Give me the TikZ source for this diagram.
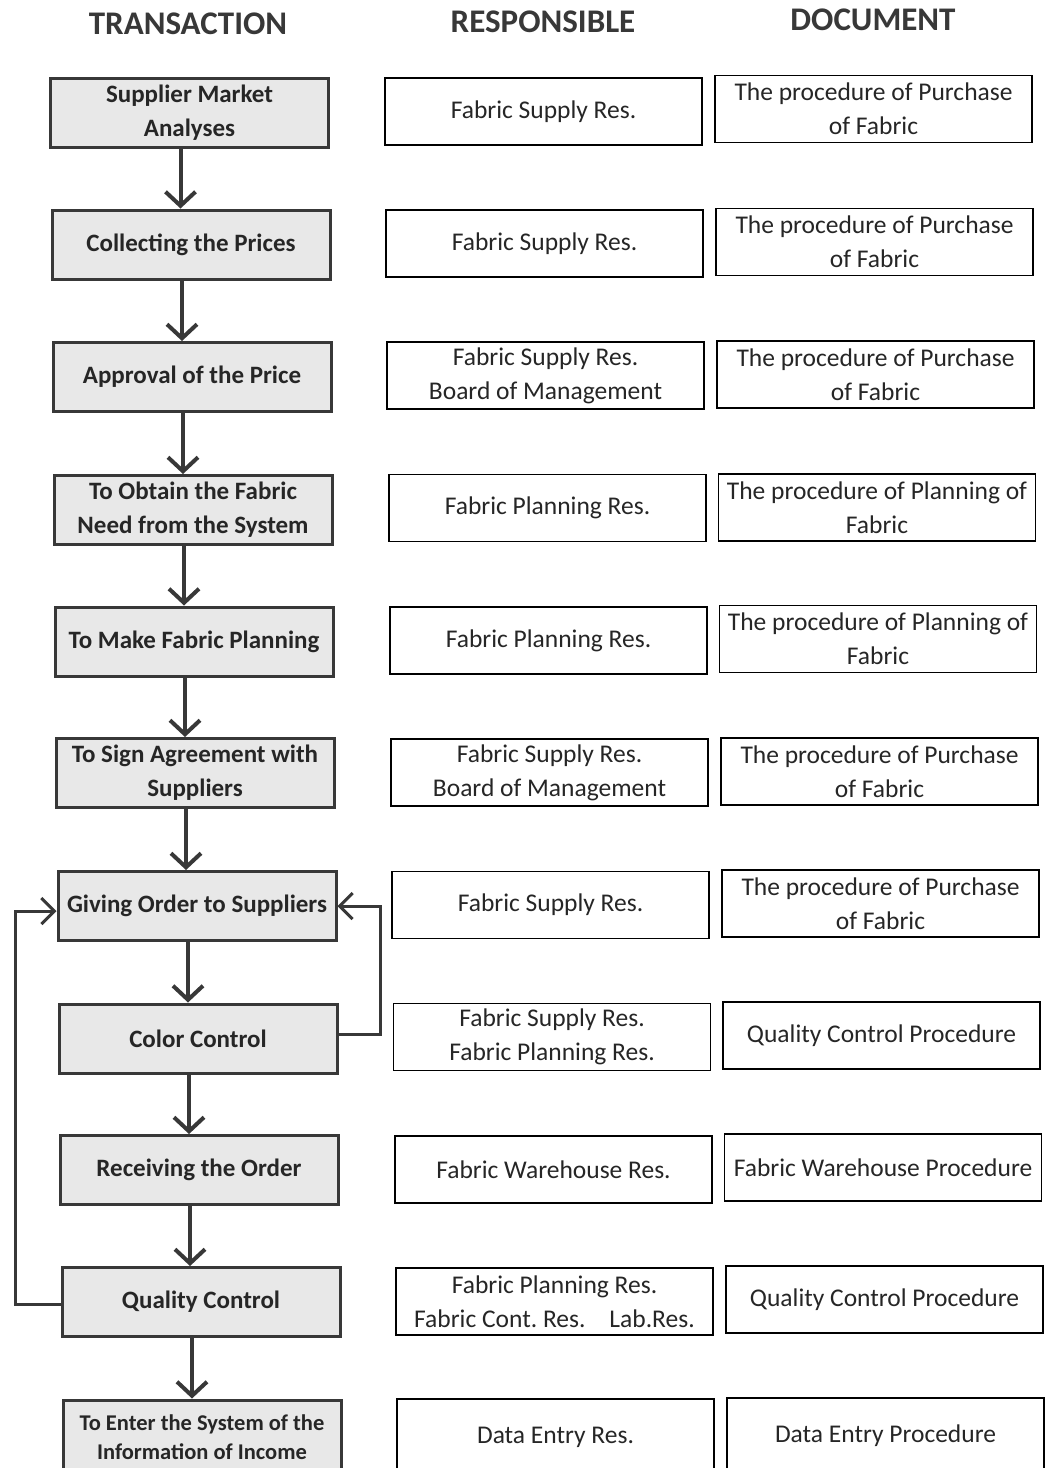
\documentclass[tikz,border=0pt]{standalone}
\usepackage{fontspec}
\setmainfont{Carlito}
\usetikzlibrary{arrows.meta,calc}
\frenchspacing
\definecolor{dk}{HTML}{383838}
\definecolor{fillg}{HTML}{E8E8E8}
\tikzset{
  lbox/.style={draw=dk, line width=3pt, fill=fillg, minimum width=278pt, minimum height=69pt,
    align=center, inner sep=0pt, font=\fontsize{25}{34}\selectfont\bfseries, text=black!85},
  mbox/.style={draw=black, line width=1.4pt, minimum width=317pt, minimum height=67pt,
    align=center, inner sep=0pt, font=\fontsize{25.5}{34}\selectfont, text=black!85},
  hdr/.style={font=\fontsize{33}{36}\selectfont\bfseries, text=dk},
  flow/.style={draw=dk, line width=4pt, -{Straight Barb[length=14pt,width=30pt]}},
  back/.style={draw=dk, line width=3pt, -{Straight Barb[length=13pt,width=26pt]}}
}
\begin{document}
\begin{tikzpicture}[x=1pt,y=-1pt]
\useasboundingbox (0,0) rectangle (1047,1468);
\clip (0,0) rectangle (1047,1468);
\fill[white] (0,0) rectangle (1047,1468);
% headers
\node[hdr] (h1) at (188,24) {TRANSACTION};
\node[hdr] (h2) at (543,22) {RESPONSIBLE};
\node[hdr] (h3) at (873,20) {DOCUMENT};
% left column
\node[lbox] (L1) at (189.5,112.5) {Supplier Market\\Analyses};
\node[lbox] (L2) at (191,244.5) {Collecting the Prices};
\node[lbox] (L3) at (192,377) {Approval of the Price};
\node[lbox] (L4) at (193,510) {To Obtain the Fabric\\Need from the System};
\node[lbox] (L5) at (194,641.5) {To Make Fabric Planning};
\node[lbox] (L6) at (195,773) {To Sign Agreement with\\Suppliers};
\node[lbox] (L7) at (197,906) {Giving Order to Suppliers};
\node[lbox] (L8) at (198,1038.5) {Color Control};
\node[lbox] (L9) at (199,1170) {Receiving the Order};
\node[lbox] (L10) at (201,1302) {Quality Control};
\node[lbox, minimum height=74pt, font=\fontsize{22.5}{29}\selectfont\bfseries] (L11) at (202,1437) {To Enter the System of the\\Information of Income};
% middle column
\node[mbox] (M1) at (543.5,111.5) {Fabric Supply Res.};
\node[mbox] (M2) at (544.5,243.5) {Fabric Supply Res.};
\node[mbox] (M3) at (545.5,375.5) {Fabric Supply Res.\\Board of Management};
\node[mbox] (M4) at (547.5,508) {Fabric Planning Res.};
\node[mbox] (M5) at (548.5,640.5) {Fabric Planning Res.};
\node[mbox] (M6) at (549.5,772.5) {Fabric Supply Res.\\Board of Management};
\node[mbox] (M7) at (550.5,905) {Fabric Supply Res.};
\node[mbox] (M8) at (552,1037) {Fabric Supply Res.\\Fabric Planning Res.};
\node[mbox] (M9) at (553.5,1169.5) {Fabric Warehouse Res.};
\node[mbox] (M10) at (554.5,1301.5) {Fabric Planning Res.\\Fabric Cont. Res.\hspace{24pt}Lab.Res.};
\node[mbox, minimum height=76pt] (M11) at (555.5,1437) {Data Entry Res.};
% right column
\node[mbox] (R1) at (873.5,109) {The procedure of Purchase\\of Fabric};
\node[mbox] (R2) at (874.5,242) {The procedure of Purchase\\of Fabric};
\node[mbox] (R3) at (875.5,374.5) {The procedure of Purchase\\of Fabric};
\node[mbox] (R4) at (877,507.5) {The procedure of Planning of\\Fabric};
\node[mbox] (R5) at (878,639) {The procedure of Planning of\\Fabric};
\node[mbox] (R6) at (879.5,771.5) {The procedure of Purchase\\of Fabric};
\node[mbox] (R7) at (880.5,903.5) {The procedure of Purchase\\of Fabric};
\node[mbox] (R8) at (881.5,1035.5) {Quality Control Procedure};
\node[mbox] (R9) at (883,1167.5) {Fabric Warehouse Procedure};
\node[mbox] (R10) at (884.5,1299.5) {Quality Control Procedure};
\node[mbox, minimum height=76pt] (R11) at (885.5,1436) {Data Entry Procedure};
% flow arrows
\foreach \a/\b in {L1/L2,L2/L3,L3/L4,L4/L5,L5/L6,L6/L7,L7/L8,L8/L9,L9/L10,L10/L11}{
  \draw[flow] ([xshift=-9pt]\a.south) -- ([xshift=-9pt]\a.south |- \b.north);
}
% feedback loops
\coordinate (c1) at (380,1034);
\coordinate (c2) at (380,906);
\draw[back] (L8.east |- c1) -- (c1) -- (c2) -- (L7.east |- c2);
\coordinate (d1) at (15,1304);
\coordinate (d2) at (15,911);
\draw[back] (L10.west |- d1) -- (d1) -- (d2) -- (L7.west |- d2);
\end{tikzpicture}
\end{document}
